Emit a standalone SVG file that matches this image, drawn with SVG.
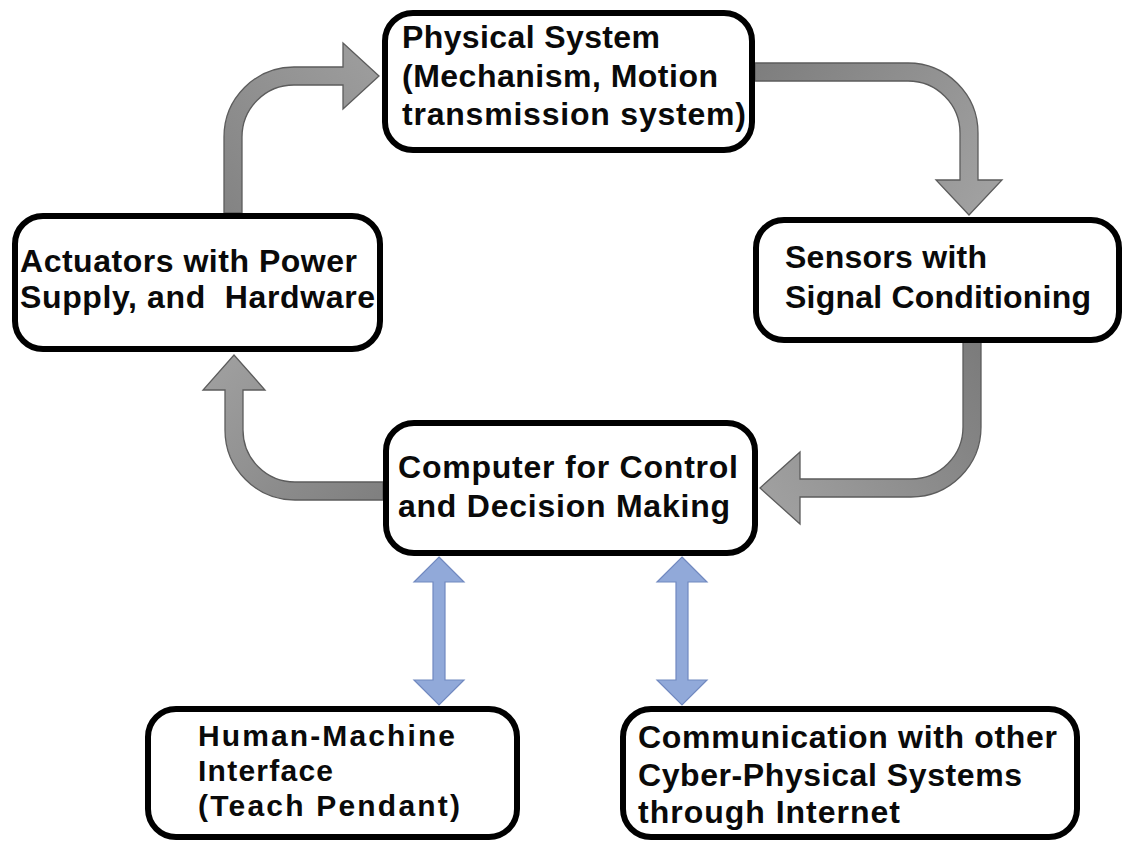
<svg xmlns="http://www.w3.org/2000/svg" width="1127" height="843" viewBox="0 0 1127 843">
<style>
.box{fill:#ffffff;stroke:#000000;stroke-width:6}
.t{font-family:"Liberation Sans",Arial,sans-serif;font-weight:bold;font-size:32px;fill:#0a0a0a;white-space:pre}
.s{font-size:30px}
.ga{stroke:#5c5c5c;stroke-width:1.3}
.ba{fill:#91a9d9;stroke:#7189c0;stroke-width:1.2}
</style>
<defs>
<linearGradient id="g1" gradientUnits="userSpaceOnUse" x1="233" y1="213" x2="379" y2="76"><stop offset="0" stop-color="#848484"/><stop offset="1" stop-color="#9c9c9c"/></linearGradient>
<linearGradient id="g2" gradientUnits="userSpaceOnUse" x1="755" y1="72" x2="969" y2="215"><stop offset="0" stop-color="#7e7e7e"/><stop offset="1" stop-color="#a0a0a0"/></linearGradient>
<linearGradient id="g3" gradientUnits="userSpaceOnUse" x1="972" y1="342" x2="760" y2="488"><stop offset="0" stop-color="#7c7c7c"/><stop offset="1" stop-color="#a0a0a0"/></linearGradient>
<linearGradient id="g4" gradientUnits="userSpaceOnUse" x1="383" y1="491" x2="234" y2="355"><stop offset="0" stop-color="#808080"/><stop offset="1" stop-color="#9e9e9e"/></linearGradient>
</defs>
<rect width="1127" height="843" fill="#ffffff"/>
<g id="connectors">
<path class="ga" fill="url(#g1)" d="M224,213 L224,137 A70,70 0 0 1 294,67 L343,67 L343,43 L379,76 L343,109 L343,85 L294,85 A52,52 0 0 0 242,137 L242,213 Z"/>
<path class="ga" fill="url(#g2)" d="M755,63 L908,63 A70,70 0 0 1 978,133 L978,180 L1002,180 L969,215 L936,180 L960,180 L960,133 A52,52 0 0 0 908,81 L755,81 Z"/>
<path class="ga" fill="url(#g3)" d="M981,342 L981,427 A70,70 0 0 1 911,497 L800,497 L800,524 L760,488 L800,452 L800,479 L911,479 A52,52 0 0 0 963,427 L963,342 Z"/>
<path class="ga" fill="url(#g4)" d="M383,482 L295,482 A52,52 0 0 1 243,430 L243,390 L265,390 L234,355 L203,390 L225,390 L225,430 A70,70 0 0 0 295,500 L383,500 Z"/>
<path class="ba" d="M439,557 L464,582 L445,582 L445,680 L464,680 L439,705 L414,680 L433,680 L433,582 L414,582 Z"/>
<path class="ba" d="M682,557 L707,582 L688,582 L688,680 L707,680 L682,705 L657,680 L676,680 L676,582 L657,582 Z"/>
</g>
<g id="physical">
<rect class="box" x="385" y="13" width="367" height="137" rx="28"/>
<text class="t" x="402" y="48" textLength="258" lengthAdjust="spacing">Physical System</text>
<text class="t" x="402" y="87" textLength="316" lengthAdjust="spacing">(Mechanism, Motion</text>
<text class="t" x="402" y="125" textLength="344" lengthAdjust="spacing">transmission system)</text>
</g>
<g id="sensors">
<rect class="box" x="756" y="220" width="363" height="120" rx="28"/>
<text class="t" x="785" y="268" textLength="202" lengthAdjust="spacing">Sensors with</text>
<text class="t" x="785" y="308" textLength="306" lengthAdjust="spacing">Signal Conditioning</text>
</g>
<g id="actuators">
<rect class="box" x="15" y="216" width="365" height="133" rx="28"/>
<text class="t" x="20" y="272" textLength="337" lengthAdjust="spacing">Actuators with Power</text>
<text class="t" x="20" y="308" textLength="355" lengthAdjust="spacing" xml:space="preserve">Supply, and  Hardware</text>
</g>
<g id="computer">
<rect class="box" x="386" y="423" width="369" height="130" rx="28"/>
<text class="t" x="398" y="478" textLength="340" lengthAdjust="spacing">Computer for Control</text>
<text class="t" x="398" y="517" textLength="332" lengthAdjust="spacing">and Decision Making</text>
</g>
<g id="hmi">
<rect class="box" x="148" y="709" width="369" height="128" rx="28"/>
<text class="t s" x="198" y="746" textLength="257" lengthAdjust="spacing">Human-Machine</text>
<text class="t s" x="198" y="781" textLength="135" lengthAdjust="spacing">Interface</text>
<text class="t s" x="198" y="816" textLength="262" lengthAdjust="spacing">(Teach Pendant)</text>
</g>
<g id="communication">
<rect class="box" x="623" y="709" width="454" height="128" rx="28"/>
<text class="t" x="638" y="748" textLength="419" lengthAdjust="spacing">Communication with other</text>
<text class="t" x="638" y="786" textLength="384" lengthAdjust="spacing">Cyber-Physical Systems</text>
<text class="t" x="638" y="823" textLength="262" lengthAdjust="spacing">through Internet</text>
</g>
</svg>
